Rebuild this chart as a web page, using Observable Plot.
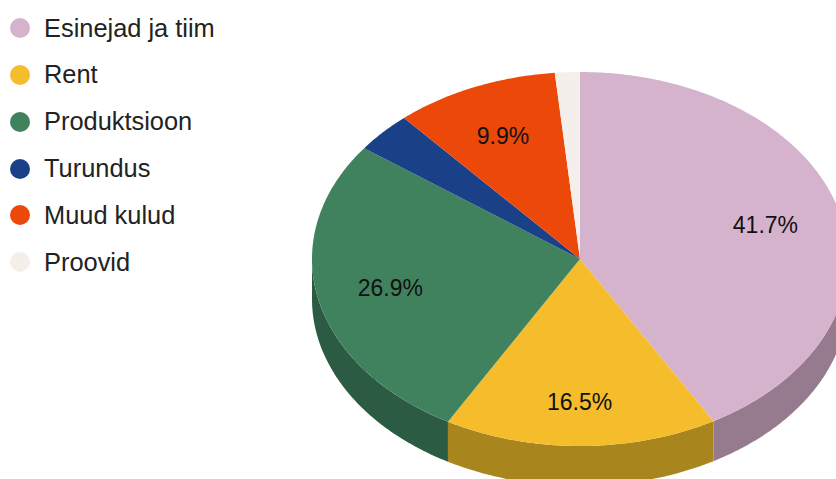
<!DOCTYPE html>
<html>
<head>
<meta charset="utf-8">
<script src="https://cdn.jsdelivr.net/npm/d3@7"></script>
<script src="https://cdn.jsdelivr.net/npm/@observablehq/plot@0.6"></script>
<style>
html, body { margin: 0; padding: 0; background: #fff; overflow: hidden; }
#wrap { position: relative; width: 836px; height: 479px; }
#wrap svg { display: block; }
#legend { position: absolute; left: 0; top: 4.6px; font: 25.4px "Liberation Sans", Arial, sans-serif; color: #222; }
#legend div { display: flex; align-items: center; height: 46.85px; white-space: nowrap; }
#legend i { display: block; width: 20px; height: 20px; border-radius: 50%; margin: 0 14px 0 10px; }
</style>
</head>
<body>
<div id="wrap"><div id="chart"></div><div id="legend"></div></div>
<script>
const categories = ["Esinejad ja tiim", "Rent", "Produktsioon", "Turundus", "Muud kulud", "Proovid"];
const shares = [41.7, 16.5, 26.9, 3.5, 9.9, 1.5];
const labels = ["41.7%", "16.5%", "26.9%", "", "9.9%", ""];
const topColors = ["#d5b3cd", "#f5bd2c", "#40825e", "#1a4087", "#ec4809", "#f4efeb"];
const sideColors = ["#967b8f", "#a9861d", "#2b5b42", "#122d5f", "#a53206", "#aba7a5"];

const depth = 40 / 187;
const labelRadius = 0.72;
const arcs = d3.pie().sort(null).value(d => d)(shares);

function topShape(arc, i) {
  const n = Math.max(2, Math.ceil((arc.endAngle - arc.startAngle) / 0.01));
  const rim = d3.range(n + 1).map(k => arc.startAngle + (arc.endAngle - arc.startAngle) * k / n);
  return [
    {i, x: 0, y: 0, color: topColors[i]},
    ...rim.map(a => ({i, x: Math.sin(a), y: -Math.cos(a), color: topColors[i]}))
  ];
}
function sideShape(arc, i) {
  const a0 = Math.max(arc.startAngle, Math.PI / 2), a1 = Math.min(arc.endAngle, Math.PI * 1.5);
  if (a1 <= a0) return [];
  const n = Math.max(2, Math.ceil((a1 - a0) / 0.01));
  const rim = d3.range(n + 1).map(k => a0 + (a1 - a0) * k / n);
  return [
    ...rim.map(a => ({i, x: Math.sin(a), y: -Math.cos(a), color: sideColors[i]})),
    ...rim.slice().reverse().map(a => ({i, x: Math.sin(a), y: -Math.cos(a) + depth, color: sideColors[i]}))
  ];
}
const tops = arcs.flatMap(topShape);
const sides = arcs.flatMap(sideShape);
const labelData = arcs.map((arc, i) => {
  const m = (arc.startAngle + arc.endAngle) / 2;
  const c = Math.cos(m);
  // labels in the front half sit a little lower, towards the pie's rim
  const lift = c < 0 ? 0.04 * c * c : 0;
  return {x: labelRadius * Math.sin(m), y: -labelRadius * c + lift + 0.006, text: labels[i]};
}).filter(d => d.text);

const plot = Plot.plot({
  width: 836, height: 479,
  marginTop: 0, marginRight: 0, marginBottom: 0, marginLeft: 0,
  x: {domain: [-1, 1], range: [311.5, 847.5], axis: null},
  y: {domain: [-1, 1], range: [71.5, 445.5], axis: null},
  color: {type: "identity"},
  marks: [
    Plot.line(sides, {x: "x", y: "y", z: "i", fill: "color", stroke: "none", curve: "linear"}),
    Plot.line(tops, {x: "x", y: "y", z: "i", fill: "color", stroke: "none", curve: "linear"}),
    Plot.text(labelData, {x: "x", y: "y", dx: -1, text: "text", fontSize: 23, fill: "#111", fontFamily: "Liberation Sans, Arial, sans-serif", stroke: "none"})
  ]
});
document.getElementById("chart").append(plot);

const legend = d3.select("#legend");
categories.forEach((c, i) => {
  const row = legend.append("div");
  row.append("i").style("background", topColors[i]);
  row.append("span").text(c);
});
</script>
</body>
</html>
